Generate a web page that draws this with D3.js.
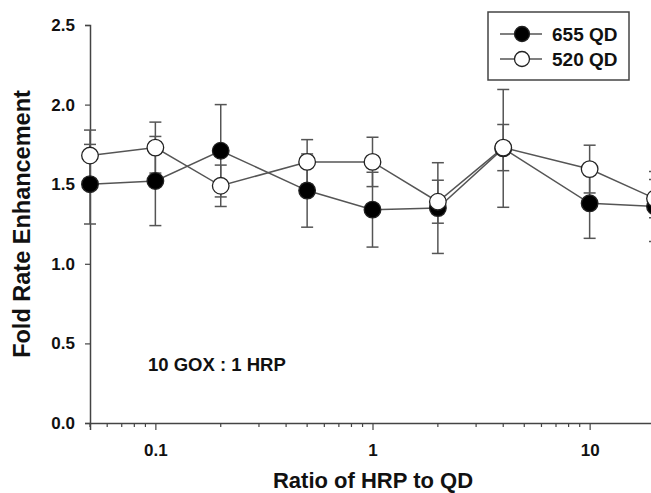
<!DOCTYPE html>
<html>
<head>
<meta charset="utf-8">
<script src="https://cdn.jsdelivr.net/npm/d3@7"></script>
<style>
  body { margin: 0; background: #fff; }
  svg { display: block; font-family: "Liberation Sans", Arial, sans-serif; }
</style>
</head>
<body>
<svg id="chart"></svg>
<script>

// ratio of HRP to QD
const ratios = [0.05, 0.1, 0.2, 0.5, 1, 2, 4, 10, 20];

// 655 QD (filled)
const qd655 = [1.50, 1.52, 1.71, 1.46, 1.34, 1.35, 1.725, 1.38, 1.36];
const qd655Err = [0.25, 0.28, 0.29, 0.23, 0.235, 0.285, 0.37, 0.22, 0.22];

// 520 QD (open)
const qd520 = [1.68, 1.73, 1.49, 1.64, 1.64, 1.39, 1.73, 1.595, 1.41];
const qd520Err = [0.16, 0.16, 0.13, 0.14, 0.155, 0.135, 0.145, 0.15, 0.12];

const yTicks = [0, 0.5, 1.0, 1.5, 2.0, 2.5];
const xTicks = [0.1, 1, 10];
const legendLabels = ["655 QD", "520 QD"];

const width = 651, height = 493;
const margin = {left: 90, top: 25, right: -4, bottom: 70};

const svg = d3.select("#chart").attr("width", width).attr("height", height);

const x = d3.scaleLog().domain([0.05, 20]).range([margin.left, width - margin.right]);
const y = d3.scaleLinear().domain([0, 2.5]).range([height - margin.bottom, margin.top]);

const lineCol = "#555";

// axes
let yAxis = svg.append("g")
        .attr("transform", `translate(${margin.left},0)`)
        .call(d3.axisLeft(y).tickValues(yTicks).tickFormat(d3.format(".1f")).tickSize(5).tickPadding(10))
yAxis.select(".domain").attr("stroke", "#444").attr("stroke-width", 1.5)
yAxis.selectAll(".tick line").attr("stroke", "#444").attr("stroke-width", 1.2)
yAxis.selectAll("text").attr("font-size", 17).attr("font-weight", "bold").attr("fill", "#111")

// minor ticks for the log axis
let minor = []
for (let dec of [0.01, 0.1, 1, 10]) {
        for (let k = 1; k < 10; k++) {
                let v = dec * k
                if (v >= 0.05 && v <= 20 && xTicks.indexOf(v) == -1) minor.push(v)
        }
}

let xAxis = svg.append("g")
        .attr("transform", `translate(0,${y(0)})`)
        .call(d3.axisBottom(x).tickValues(xTicks).tickFormat(d => d).tickSize(7).tickPadding(14))
xAxis.select(".domain").attr("stroke", "#444").attr("stroke-width", 1.5)
xAxis.selectAll(".tick line").attr("stroke", "#444").attr("stroke-width", 1.2)
xAxis.selectAll("text").attr("font-size", 17).attr("font-weight", "bold").attr("fill", "#111")

xAxis.append("g").selectAll("line")
        .data(minor)
        .join("line")
        .attr("x1", d => x(d)).attr("x2", d => x(d))
        .attr("y1", 0).attr("y2", 4)
        .attr("stroke", "#444").attr("stroke-width", 1.2)

// axis titles
svg.append("text")
        .attr("x", 373).attr("y", 488)
        .attr("text-anchor", "middle")
        .attr("font-size", 22).attr("font-weight", "bold").attr("fill", "#111")
        .text("Ratio of HRP to QD")

svg.append("text")
        .attr("transform", `translate(30,${(y(0) + y(2.5)) / 2}) rotate(-90)`)
        .attr("text-anchor", "middle")
        .attr("font-size", 23.5).attr("font-weight", "bold").attr("fill", "#111")
        .text("Fold Rate Enhancement")

svg.append("text")
        .attr("x", 148).attr("y", 371)
        .attr("font-size", 18.5).attr("font-weight", "bold").attr("fill", "#111")
        .text("10 GOX : 1 HRP")

// series
const series = [
        {vals: qd655, err: qd655Err, fill: "#000"},
        {vals: qd520, err: qd520Err, fill: "#fff"}
]

const line = d3.line().x((d, i) => x(ratios[i])).y(d => y(d))

series.forEach(S => {
        svg.append("path")
                .attr("d", line(S.vals))
                .attr("fill", "none")
                .attr("stroke", lineCol)
                .attr("stroke-width", 1.5)
})

series.forEach(S => {
        let g = svg.append("g").attr("stroke", lineCol).attr("stroke-width", 1.5)
        S.vals.forEach((v, i) => {
                let cx = x(ratios[i])
                g.append("line").attr("x1", cx).attr("x2", cx).attr("y1", y(v - S.err[i])).attr("y2", y(v + S.err[i]))
                g.append("line").attr("x1", cx - 6).attr("x2", cx + 6).attr("y1", y(v + S.err[i])).attr("y2", y(v + S.err[i]))
                g.append("line").attr("x1", cx - 6).attr("x2", cx + 6).attr("y1", y(v - S.err[i])).attr("y2", y(v - S.err[i]))
        })
})

series.forEach(S => {
        svg.append("g").selectAll("circle")
                .data(S.vals)
                .join("circle")
                .attr("cx", (d, i) => x(ratios[i]))
                .attr("cy", d => y(d))
                .attr("r", 8.3)
                .attr("fill", S.fill)
                .attr("stroke", "#222")
                .attr("stroke-width", 1.3)
})

// legend
let legend = svg.append("g").attr("transform", "translate(488,12)")
legend.append("rect")
        .attr("width", 141).attr("height", 68)
        .attr("fill", "#fff").attr("stroke", "#444").attr("stroke-width", 1.5)

legendLabels.forEach((lab, i) => {
        let ly = 22 + i * 25
        legend.append("line").attr("x1", 12).attr("x2", 54).attr("y1", ly).attr("y2", ly)
                .attr("stroke", lineCol).attr("stroke-width", 1.5)
        legend.append("circle").attr("cx", 34).attr("cy", ly).attr("r", 7.5)
                .attr("fill", series[i].fill).attr("stroke", "#222").attr("stroke-width", 1.3)
        legend.append("text").attr("x", 64).attr("y", ly + 7)
                .attr("font-size", 19).attr("font-weight", "bold").attr("fill", "#111")
                .text(lab)
})

</script>
</body>
</html>
